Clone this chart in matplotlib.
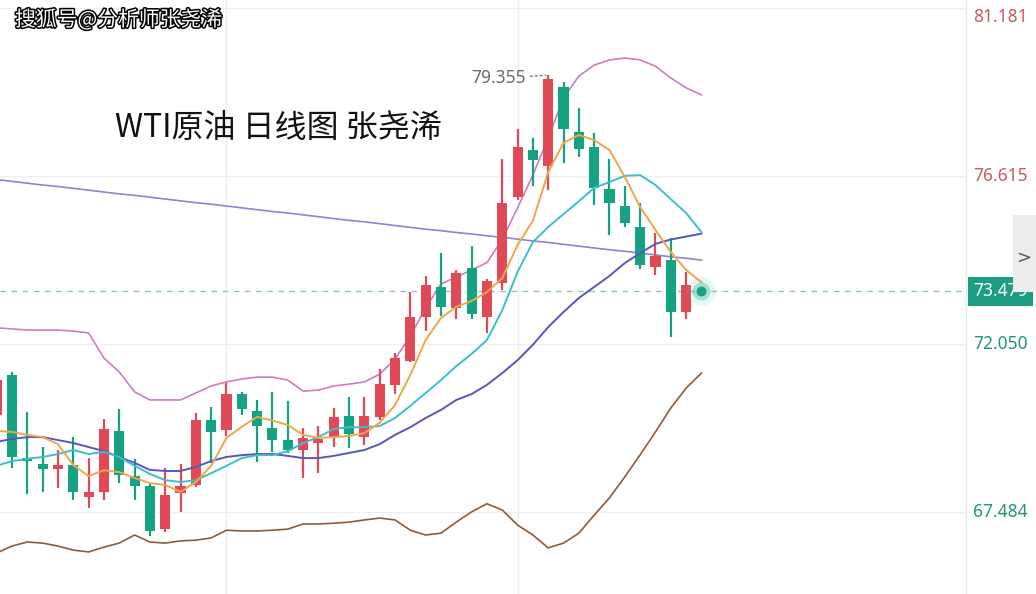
import matplotlib
matplotlib.use('Agg')
import matplotlib.pyplot as plt
import matplotlib.patheffects as pe
import matplotlib.transforms as mtransforms
from matplotlib.patches import Rectangle
import numpy as np

plt.rcParams['font.family'] = ['Noto Sans CJK SC', 'DejaVu Sans']

# ---------------- data ----------------
opens = [70.12, 71.21, 68.95, 68.79, 68.65, 68.76, 67.89, 68.03, 69.69, 68.46,
         68.19, 67.02, 68.00, 68.22, 69.98, 69.71, 70.69, 70.23, 69.77, 69.44,
         69.17, 69.36, 69.52, 70.10, 69.52, 70.07, 70.94, 71.59, 72.78, 73.60,
         73.03, 74.12, 72.78, 73.71, 76.05, 77.32, 76.89, 79.03, 77.81, 77.40,
         76.26, 75.80, 75.23, 74.15, 74.33, 72.92]
closes = [71.07, 68.98, 68.87, 68.65, 68.76, 68.03, 68.03, 69.74, 68.49, 68.19,
          66.97, 67.95, 68.19, 69.98, 69.66, 70.69, 70.28, 69.82, 69.44, 69.17,
          69.50, 69.47, 70.07, 69.60, 70.10, 70.96, 71.67, 72.78, 73.65, 73.06,
          73.98, 72.87, 73.76, 75.88, 77.40, 77.05, 79.25, 77.89, 77.35, 76.29,
          75.88, 75.34, 74.20, 74.44, 72.92, 73.65]
highs = [71.29, 71.29, 70.20, 69.25, 69.17, 69.52, 68.95, 70.01, 70.28, 68.93,
         68.27, 68.68, 68.79, 70.18, 70.34, 70.99, 70.75, 70.53, 70.75, 70.50,
         69.77, 69.82, 70.31, 70.61, 70.61, 71.37, 71.81, 73.46, 73.90, 74.52,
         74.06, 74.71, 73.81, 77.08, 77.89, 77.65, 79.355, 79.17, 78.46, 77.79,
         77.08, 76.34, 75.88, 75.07, 74.93, 74.01]
lows = [69.98, 68.68, 67.97, 68.03, 68.14, 67.81, 67.59, 67.81, 68.27, 67.81,
        66.83, 66.94, 67.49, 68.16, 68.82, 69.55, 70.12, 68.84, 69.12, 69.09,
        68.41, 68.54, 69.25, 69.23, 69.31, 69.98, 70.69, 71.56, 72.40, 72.81,
        72.73, 72.73, 72.35, 73.52, 75.96, 76.34, 76.23, 76.97, 77.13, 75.83,
        75.01, 75.23, 74.09, 73.93, 72.24, 72.73]

ma5 = [69.69, 69.66, 69.58, 69.52, 69.33, 68.76, 68.46, 68.62, 68.57, 68.41,
       68.27, 68.22, 68.03, 68.30, 68.74, 69.50, 69.80, 70.07, 69.97, 69.85,
       69.58, 69.50, 69.52, 69.55, 69.63, 69.91, 70.39, 71.21, 72.16, 72.76,
       73.06, 73.22, 73.46, 73.84, 74.74, 75.40, 76.72, 77.52, 77.73, 77.59,
       77.32, 76.59, 75.77, 75.15, 74.55, 74.06, 73.73]
ma10 = [68.74, 68.87, 68.93, 68.98, 69.06, 69.17, 69.06, 69.12, 68.98, 68.74,
        68.52, 68.35, 68.30, 68.35, 68.54, 68.74, 68.95, 69.03, 69.03, 69.14,
        69.36, 69.52, 69.74, 69.79, 69.79, 69.82, 70.04, 70.37, 70.72, 71.07,
        71.45, 71.78, 72.16, 72.97, 74.01, 74.82, 75.23, 75.58, 75.93, 76.29,
        76.45, 76.62, 76.64, 76.37, 75.99, 75.61, 75.09]
ma20 = [69.39, 69.47, 69.52, 69.52, 69.44, 69.36, 69.25, 69.14, 68.98, 68.82,
        68.63, 68.60, 68.60, 68.71, 68.87, 68.98, 69.03, 69.06, 69.06, 69.01,
        68.95, 68.95, 69.01, 69.09, 69.17, 69.33, 69.58, 69.79, 70.04, 70.26,
        70.53, 70.69, 70.94, 71.26, 71.61, 72.03, 72.51, 72.92, 73.30, 73.60,
        73.90, 74.25, 74.52, 74.77, 74.89, 74.97, 75.05]
ma60 = [76.52, 76.47, 76.42, 76.37, 76.33, 76.28, 76.23, 76.18, 76.13, 76.09,
        76.04, 75.99, 75.94, 75.89, 75.85, 75.80, 75.75, 75.70, 75.65, 75.61,
        75.56, 75.51, 75.46, 75.41, 75.37, 75.32, 75.27, 75.22, 75.17, 75.13,
        75.08, 75.04, 74.99, 74.95, 74.90, 74.85, 74.81, 74.76, 74.71, 74.66,
        74.61, 74.57, 74.52, 74.47, 74.42, 74.38, 74.33]
boll_up = [72.49, 72.46, 72.43, 72.43, 72.43, 72.40, 72.35, 71.67, 71.29, 70.75,
           70.53, 70.53, 70.53, 70.72, 70.91, 71.02, 71.10, 71.15, 71.15, 71.07,
           70.77, 70.80, 70.91, 70.96, 71.02, 71.23, 71.64, 72.27, 73.03, 73.68,
           73.87, 74.06, 74.26, 74.89, 75.75, 76.64, 77.65, 78.74, 79.33, 79.63,
           79.77, 79.82, 79.77, 79.60, 79.28, 79.01, 78.82]
boll_low = [66.37, 66.56, 66.67, 66.64, 66.56, 66.45, 66.40, 66.53, 66.64, 66.86,
            66.67, 66.64, 66.70, 66.72, 66.78, 66.99, 66.97, 66.97, 66.99, 67.02,
            67.16, 67.16, 67.18, 67.21, 67.27, 67.32, 67.27, 66.99, 66.86, 66.91,
            67.21, 67.49, 67.71, 67.54, 67.13, 66.86, 66.51, 66.64, 66.91, 67.40,
            67.87, 68.44, 69.04, 69.66, 70.31, 70.85, 71.26]

price_ticks = [81.181, 76.615, 72.050, 67.484]
price_tick_labels = ['81.181', '76.615', '72.050', '67.484']
last_price = 73.479
peak_value = 79.355
vgrid_index = [15, 34]
title_text = 'WTI原油 日线图 张尧浠'
watermark_text = '搜狐号@分析师张尧浠'

# ---------------- styling ----------------
RED = '#e04a57'
GREEN = '#14a283'
W, H = 1036, 594
fig = plt.figure(figsize=(W / 100, H / 100), dpi=100)
fig.patch.set_facecolor('white')
ax = fig.add_axes([0, 0, 966 / W, 1])
ax.set_facecolor('white')

n = len(opens)
xs = np.arange(n)
xl = np.arange(len(ma5))

ax.set_xlim(0.217, 63.27)
ax.set_ylim(65.257, 81.398)

# grid
for v in price_ticks:
    ax.axhline(v, color='#efefef', lw=1, zorder=0)
for v in vgrid_index:
    ax.axvline(v, color='#efefef', lw=1, zorder=0)

# lines
ax.plot(xl, ma60, color='#8f82d2', lw=1.2, zorder=2)
ax.plot(xl, boll_up, color='#cc7cc1', lw=1.2, zorder=2)
ax.plot(xl, boll_low, color='#8e5b38', lw=1.2, zorder=2)

# candles
o = np.array(opens); c = np.array(closes); h = np.array(highs); l = np.array(lows)
cols = np.where(c >= o, RED, GREEN)
ax.vlines(xs, l, h, colors=cols, lw=1.6, zorder=3)
bottoms = np.minimum(o, c)
heights = np.maximum(np.abs(c - o), 0.05)
ax.bar(xs, heights, bottom=bottoms, width=0.66, color=cols, lw=0, zorder=4)

ax.plot(xl, ma20, color='#5557be', lw=1.4, zorder=5)
ax.plot(xl, ma10, color='#3bbfc8', lw=1.4, zorder=5)
ax.plot(xl, ma5, color='#f4a448', lw=1.4, zorder=6)

# last price line and dot
ax.axhline(last_price, color='#86c9bf', lw=1, ls=(0, (4, 4)), zorder=1)
lx = len(ma5) - 1
ax.scatter([lx], [last_price], s=420, color='#3cc3a4', alpha=0.13, lw=0, zorder=7)
ax.scatter([lx], [last_price], s=170, color='#2bb595', alpha=0.35, lw=0, zorder=7)
ax.scatter([lx], [last_price], s=50, color='#14a283', lw=0, zorder=8)

# peak label
pk = int(np.argmax(h))
ax.annotate(f'{peak_value:.3f}', xy=(pk, peak_value), xytext=(-22, -3),
            textcoords='offset pixels', ha='right', va='center',
            fontsize=12.5, color='#6a6a6a', family=['Noto Sans', 'DejaVu Sans'],
            arrowprops=dict(arrowstyle='-', linestyle=(0, (1, 2)), color='#888888',
                            lw=1.2, shrinkA=1, shrinkB=2), zorder=9)

for s in ax.spines.values():
    s.set_visible(False)
ax.spines['right'].set_visible(True)
ax.spines['right'].set_color('#e8e8e8')
ax.set_xticks([]); ax.set_yticks([])

# right price scale labels
trans = mtransforms.blended_transform_factory(ax.transAxes, ax.transData)
lab_x = 1 + 7 / 966
for v, txt in zip(price_ticks, price_tick_labels):
    col = '#c45a67' if v > last_price else '#23957f'
    t = trans
    if v == max(price_ticks):
        t = mtransforms.offset_copy(trans, fig=fig, x=0, y=-9, units='dots')
    ax.text(lab_x, v, txt, transform=t, ha='left', va='center', fontsize=12.5,
            color=col, family=['Noto Sans', 'DejaVu Sans'], clip_on=False)
ax.text(lab_x, last_price, f'{last_price:.3f}', transform=trans, ha='left', va='center',
        fontsize=12.5, color='white', family=['Noto Sans', 'DejaVu Sans'], clip_on=False,
        bbox=dict(boxstyle='square,pad=0.3', fc='#1c9d82', ec='none'), zorder=20)

# collapse tab on the right edge
fig.patches.append(Rectangle((1013 / W, 1 - 292 / H), 23 / W, 77 / H,
                             transform=fig.transFigure, fc='#ececec', ec='none', zorder=0))
fig.text(1024 / W, 1 - 258 / H, '>', ha='center', va='center', fontsize=13,
         color='#555555', family=['DejaVu Sans'])

# title and watermark
fig.text(115 / W, 1 - 128 / H, title_text, ha='left', va='center', fontsize=23,
         color='#111111')
fig.text(15 / W, 1 - 20 / H, watermark_text, ha='left', va='center', fontsize=15,
         color='white', fontweight='medium',
         path_effects=[pe.withStroke(linewidth=2.2, foreground='black')])

fig.savefig('out.png', dpi=100, facecolor='white')
